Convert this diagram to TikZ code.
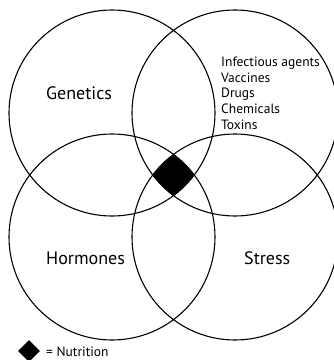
\documentclass[tikz,border=0pt]{standalone}
\usepackage{fontspec}
\setmainfont{PT Sans}
\usetikzlibrary{shapes.geometric}
\begin{document}
\begin{tikzpicture}[x=1pt,y=-1pt,
  ring/.style={draw=black,line width=1.1pt,circle,minimum size=206pt,inner sep=0pt},
  big/.style={font=\fontsize{18}{21}\selectfont,inner sep=0pt},
  small/.style={font=\fontsize{13.5}{15.6}\selectfont,inner sep=0pt,align=left}]
\useasboundingbox (0,0) rectangle (334,360);
\begin{scope}
  \clip (112,113) circle[radius=103pt];
  \clip (235,113) circle[radius=103pt];
  \clip (112,237) circle[radius=103pt];
  \clip (235,237) circle[radius=103pt];
  \fill[black] (100,100) rectangle (250,250);
\end{scope}
\node[ring] (gen) at (112,113) {};
\node[ring] (env) at (235,113) {};
\node[ring] (hor) at (112,237) {};
\node[ring] (str) at (235,237) {};
\node[big,anchor=west] (tgen) at (46,93) {Genetics};
\node[big,anchor=west] (thor) at (46,258) {Hormones};
\node[big,anchor=west] (tstr) at (244,258) {Stress};
\node[small,anchor=north west] (tenv) at (221,57) {Infectious agents\\Vaccines\\Drugs\\Chemicals\\Toxins};
\node[diamond,fill=black,minimum width=22pt,minimum height=22pt,inner sep=0pt] (leg) at (29,351) {};
\node[small,anchor=west] (tleg) at (46,352) {= Nutrition};
\end{tikzpicture}
\end{document}
